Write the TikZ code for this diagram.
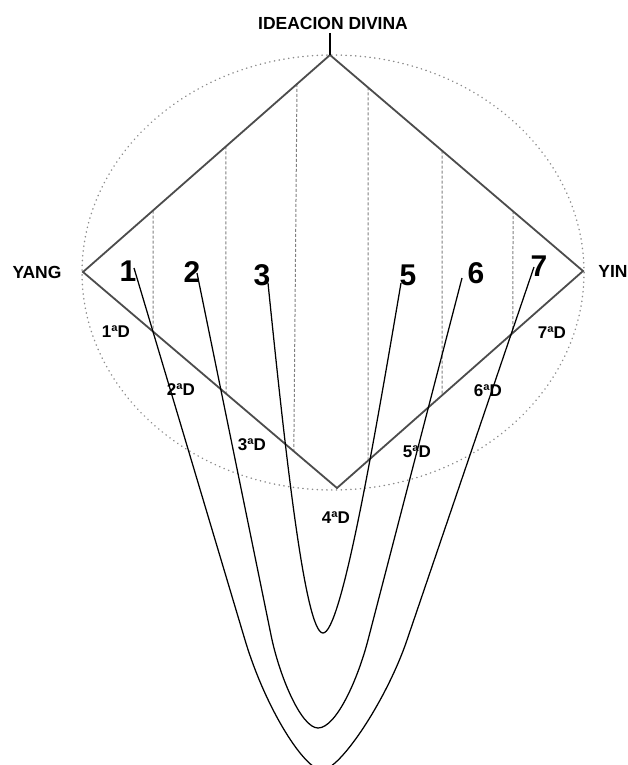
\documentclass[tikz,border=0pt]{standalone}
\usepackage{fontspec}
\setmainfont{Liberation Sans}
\usetikzlibrary{calc}
\begin{document}
\begin{tikzpicture}[x=1pt,y=-1pt,
  edge/.style={draw=black!70, line width=1.8pt, line join=miter},
  curve/.style={draw=black, line width=1.25pt},
  guide/.style={draw=black!50, line width=1pt, dash pattern=on 3pt off 2pt},
  halo/.style={draw=black!45, line width=1.5pt, line cap=round, dash pattern=on 0.3pt off 4.5pt},
  dlabel/.style={font=\bfseries\fontsize{17}{17}\selectfont, inner sep=0pt},
  num/.style={font=\bfseries\fontsize{30}{30}\selectfont, inner sep=0pt},
  pole/.style={font=\bfseries\fontsize{17.5}{17.5}\selectfont, inner sep=0pt}]
\useasboundingbox (0,0) rectangle (628,765);
\clip (0,0) rectangle (628,765);
\fill[white] (0,0) rectangle (628,765);

% rhombus vertices
\coordinate (top) at (330,55);
\coordinate (yang) at (83,272);
\coordinate (bot) at (337,488);
\coordinate (yin) at (583,271);
\coordinate (tick) at (330,33);

% dotted circle
\draw[halo] (333,272.5) ellipse [x radius=251, y radius=217.5];

% dashed vertical guides
\draw[guide] ($(yang)!0.2834!(top)$) -- ($(yang)!0.2756!(bot)$);
\draw[guide] ($(yang)!0.5789!(top)$) -- ($(yang)!0.5630!(bot)$);
\draw[guide] ($(yang)!0.8664!(top)$) -- ($(yang)!0.8300!(bot)$);
\draw[guide] ($(top)!0.1502!(yin)$) -- ($(bot)!0.1260!(yin)$);
\draw[guide] ($(top)!0.4427!(yin)$) -- ($(bot)!0.4268!(yin)$);
\draw[guide] ($(top)!0.7233!(yin)$) -- ($(bot)!0.7154!(yin)$);

% rhombus
\draw[edge] (top) -- (yin) -- (bot) -- (yang) -- cycle;
\draw[line width=2.4pt] (tick) -- (top);

% curve ends and bottoms
\coordinate (s1) at (134,268);
\coordinate (s2) at (197,273);
\coordinate (s3) at (268,283);
\coordinate (s5) at (401,283);
\coordinate (s6) at (462,278);
\coordinate (s7) at (534,267);
\coordinate (b17) at (322,770);
\coordinate (b26) at (318,728);
\coordinate (b35) at (323,633);

% U curves
\draw[curve] (s1) -- (245,640) .. controls (266,710) and (305,770) .. (b17)
  .. controls (340,770) and (386.6,700) .. (407,640) -- (s7);
\draw[curve] (s2) -- (271,635) .. controls (279,675) and (301,728) .. (b26)
  .. controls (336,728) and (357.6,680) .. (368,640) -- (s6);
\draw[curve] (s3) .. controls (285,450) and (305,633) .. (b35)
  .. controls (341,633) and (373,448) .. (s5);

% texts
\node[pole] (ideacion) at (333,23) {IDEACION DIVINA};
\node[pole] (yanglbl) at (37,272) {YANG};
\node[pole] (yinlbl) at (613,271) {YIN};

\node[num] (n1) at (128,271) {1};
\node[num] (n2) at (192,272) {2};
\node[num] (n3) at (262,275) {3};
\node[num] (n5) at (408,275) {5};
\node[num] (n6) at (476,273) {6};
\node[num] (n7) at (539,266) {7};

\node[dlabel] (d1) at (116,332) {1ªD};
\node[dlabel] (d2) at (181,390) {2ªD};
\node[dlabel] (d3) at (252,445) {3ªD};
\node[dlabel] (d4) at (336,518) {4ªD};
\node[dlabel] (d5) at (417,452) {5ªD};
\node[dlabel] (d6) at (488,391) {6ªD};
\node[dlabel] (d7) at (552,333) {7ªD};
\end{tikzpicture}
\end{document}
